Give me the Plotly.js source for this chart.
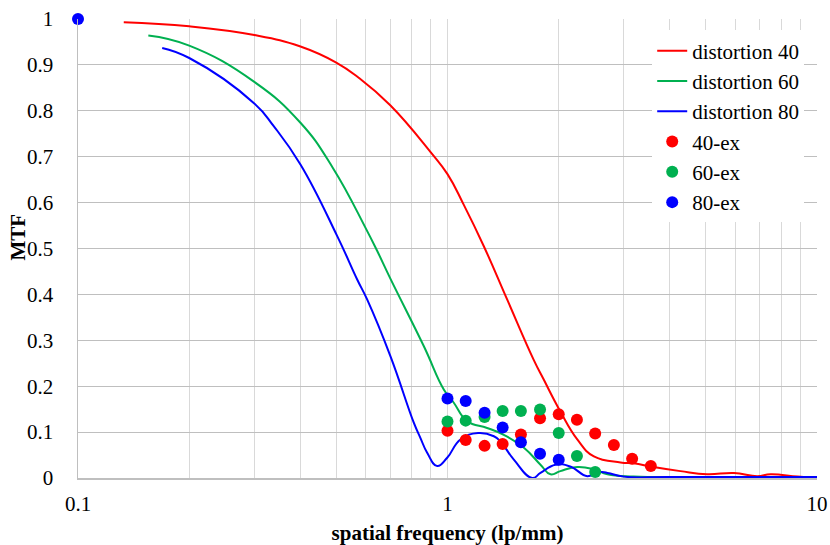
<!DOCTYPE html>
<html>
<head>
<meta charset="utf-8">
<script src="https://cdn.plot.ly/plotly-3.0.1.min.js"></script>
<style>html,body{margin:0;padding:0;background:#fff;}#chart{width:830px;height:545px;}</style>
</head>
<body>
<div id="chart"></div>
<script>
// distortion curves
const f40 = [0.133, 0.20, 0.30, 0.40, 0.50, 0.575, 0.70, 0.90, 1.0, 1.107, 1.254, 1.45, 1.71, 1.82, 2.02, 2.245, 2.49, 2.94, 3.19, 3.61, 4.27, 5.04, 5.96, 6.89, 7.49, 8.85, 10];
const m40 = [0.993, 0.984, 0.965, 0.940, 0.905, 0.872, 0.812, 0.710, 0.662, 0.595, 0.505, 0.389, 0.258, 0.215, 0.145, 0.084, 0.047, 0.034, 0.032, 0.024, 0.015, 0.008, 0.011, 0.004, 0.008, 0.003, 0.0];

const f60 = [0.155, 0.20, 0.30, 0.40, 0.49, 0.60, 0.645, 0.70, 0.863, 0.977, 1.04, 1.13, 1.28, 1.42, 1.61, 1.785, 1.90, 2.02, 2.245, 2.49, 2.71, 3.19, 5.0, 10];
const m60 = [0.964, 0.942, 0.863, 0.774, 0.675, 0.545, 0.495, 0.435, 0.287, 0.193, 0.164, 0.124, 0.109, 0.094, 0.066, 0.029, 0.008, 0.015, 0.024, 0.019, 0.008, 0.003, 0.002, 0.001];

const f80 = [0.169, 0.20, 0.30, 0.339, 0.40, 0.503, 0.57, 0.606, 0.701, 0.811, 0.845, 0.881, 0.938, 0.998, 1.084, 1.21, 1.335, 1.39, 1.512, 1.695, 1.785, 1.96, 2.15, 2.39, 2.54, 2.71, 3.0, 4.0, 10];
const m80 = [0.937, 0.915, 0.816, 0.766, 0.683, 0.527, 0.432, 0.389, 0.265, 0.120, 0.087, 0.055, 0.026, 0.044, 0.084, 0.098, 0.091, 0.080, 0.040, 0.0, 0.011, 0.029, 0.025, 0.004, 0.013, 0.011, 0.003, 0.002, 0.002];

// experimental points
const fEx40 = [1.0, 1.12, 1.26, 1.41, 1.58, 1.78, 2.0, 2.24, 2.51, 2.82, 3.16, 3.55];
const mEx40 = [0.103, 0.083, 0.070, 0.074, 0.095, 0.130, 0.139, 0.127, 0.097, 0.072, 0.042, 0.026];
const fEx60 = [1.0, 1.12, 1.26, 1.41, 1.58, 1.78, 2.0, 2.24, 2.51];
const mEx60 = [0.123, 0.125, 0.133, 0.146, 0.146, 0.149, 0.098, 0.048, 0.013];
const fEx80 = [0.1, 1.0, 1.12, 1.26, 1.41, 1.58, 1.78, 2.0];
const mEx80 = [1.0, 0.173, 0.168, 0.142, 0.110, 0.078, 0.053, 0.040];

const names = ['distortion 40', 'distortion 60', 'distortion 80', '40-ex', '60-ex', '80-ex'];
const colors = ['#FF0000', '#00B050', '#0000FF'];

const xTickVals = [0.1,0.2,0.3,0.4,0.5,0.6,0.7,0.8,0.9,1,2,3,4,5,6,7,8,9,10];
const xTickText = ['0.1','','','','','','','','','1','','','','','','','','','10'];

const font = 'Liberation Serif';

const lineTrace = (x, y, i) => ({x, y, name: names[i], mode: 'lines', type: 'scatter',
  line: {color: colors[i], width: 2, shape: 'spline', smoothing: 1.3}});
const dotTrace = (x, y, i) => ({x, y, name: names[i + 3], mode: 'markers', type: 'scatter', cliponaxis: false,
  marker: {color: colors[i], size: 12}});

const data = [
  lineTrace(f40, m40, 0), lineTrace(f60, m60, 1), lineTrace(f80, m80, 2),
  dotTrace(fEx40, mEx40, 0), dotTrace(fEx60, mEx60, 1), dotTrace(fEx80, mEx80, 2)
];

const layout = {
  width: 830, height: 545,
  margin: {l: 78, r: 13, t: 19, b: 66.5},
  paper_bgcolor: '#fff', plot_bgcolor: '#fff',
  font: {family: font, size: 21, color: '#000'},
  showlegend: true,
  legend: {x: 0.777, y: 0.975, xanchor: 'left', yanchor: 'top', bgcolor: '#fff', borderwidth: 0,
    font: {family: font, size: 21, color: '#000'}},
  xaxis: {type: 'log', range: [-1, 1], tickvals: xTickVals, ticktext: xTickText,
    showgrid: true, gridcolor: '#d9d9d9', gridwidth: 1,
    showline: true, linecolor: '#bfbfbf', linewidth: 1.5, zeroline: false,
    ticks: '', ticklabelstandoff: 6, tickfont: {family: font, size: 21, color: '#000'},
    title: {text: '<b>spatial frequency (lp/mm)</b>', font: {family: font, size: 21, color: '#000'}},
    automargin: false},
  yaxis: {range: [0, 1], dtick: 0.1, tick0: 0,
    showgrid: true, gridcolor: '#bfbfbf', gridwidth: 1,
    showline: true, linecolor: '#bfbfbf', linewidth: 1.5, zeroline: false,
    ticks: '', ticklabelstandoff: 19, tickfont: {family: font, size: 21, color: '#000'},
    automargin: false},
  annotations: [{text: '<b>MTF</b>', xref: 'paper', yref: 'paper', x: -0.0805, y: 0.525,
    xanchor: 'center', yanchor: 'middle', textangle: -90, showarrow: false,
    font: {family: font, size: 21, color: '#000'}}]
};

Plotly.newPlot('chart', data, layout, {displayModeBar: false, staticPlot: true});
</script>
</body>
</html>
